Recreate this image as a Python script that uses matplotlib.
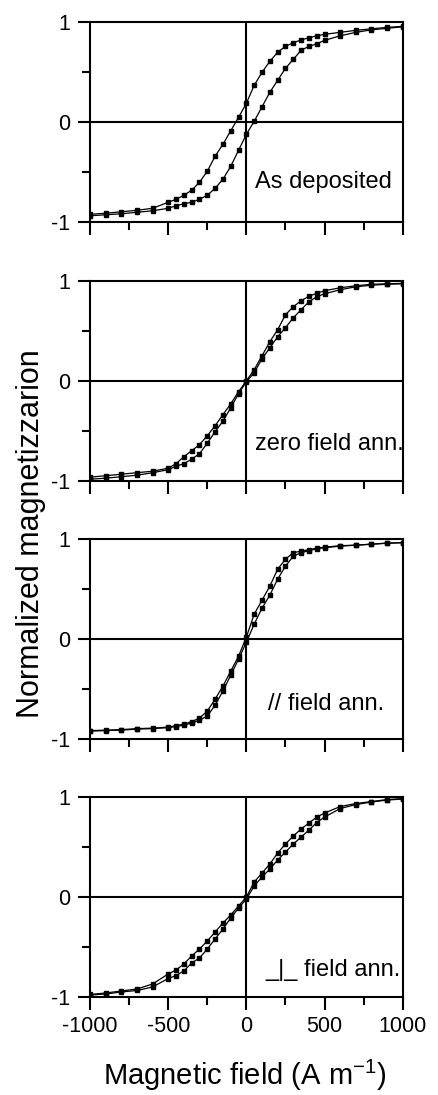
import matplotlib
matplotlib.use("Agg")
import matplotlib.pyplot as plt
from matplotlib.ticker import MultipleLocator

plt.rcParams["font.family"] = ["Liberation Sans", "DejaVu Sans"]
plt.rcParams["axes.unicode_minus"] = False

# ---------------------------------------------------
# DATA
# ---------------------------------------------------
campo = [-1000, -900, -800, -700, -600, -500, -450, -400, -350, -300, -250,
         -200, -150, -100, -50, 0, 50, 100, 150, 200, 250, 300, 350, 400,
         450, 500, 600, 700, 800, 900, 1000]

# As deposited
dep_bajada = [-0.92, -0.91, -0.895, -0.88, -0.86, -0.80, -0.77, -0.73, -0.68,
              -0.60, -0.49, -0.34, -0.22, -0.085, 0.05, 0.19, 0.37, 0.50,
              0.61, 0.70, 0.76, 0.795, 0.825, 0.845, 0.865, 0.88, 0.90,
              0.92, 0.935, 0.95, 0.96]
dep_subida = [-0.935, -0.925, -0.915, -0.90, -0.885, -0.86, -0.835, -0.815,
              -0.80, -0.77, -0.73, -0.66, -0.57, -0.44, -0.28, -0.12, 0.01,
              0.155, 0.30, 0.42, 0.54, 0.63, 0.72, 0.76, 0.785, 0.82, 0.865,
              0.90, 0.925, 0.94, 0.955]

# zero field ann.
cero_bajada = [-0.965, -0.95, -0.935, -0.92, -0.905, -0.875, -0.83, -0.76,
               -0.70, -0.64, -0.55, -0.45, -0.34, -0.23, -0.11, 0.0, 0.11,
               0.25, 0.39, 0.51, 0.66, 0.74, 0.80, 0.845, 0.875, 0.90, 0.93,
               0.95, 0.965, 0.97, 0.973]
cero_subida = [-0.985, -0.975, -0.96, -0.945, -0.92, -0.89, -0.855, -0.83,
               -0.785, -0.73, -0.625, -0.51, -0.405, -0.27, -0.13, -0.01,
               0.08, 0.22, 0.33, 0.44, 0.53, 0.63, 0.71, 0.79, 0.84, 0.87,
               0.91, 0.94, 0.955, 0.965, 0.97]

# // field ann.
par_bajada = [-0.915, -0.91, -0.905, -0.895, -0.89, -0.88, -0.865, -0.85,
              -0.825, -0.79, -0.72, -0.60, -0.47, -0.32, -0.17, 0.02, 0.25,
              0.39, 0.53, 0.70, 0.80, 0.865, 0.88, 0.895, 0.91, 0.92, 0.935,
              0.94, 0.95, 0.96, 0.965]
par_subida = [-0.92, -0.915, -0.91, -0.90, -0.895, -0.885, -0.875, -0.86,
              -0.84, -0.81, -0.77, -0.66, -0.52, -0.36, -0.20, -0.03, 0.15,
              0.31, 0.44, 0.60, 0.73, 0.83, 0.865, 0.885, 0.905, 0.915,
              0.93, 0.94, 0.95, 0.96, 0.965]

# _|_ field ann.
perp_bajada = [-0.975, -0.96, -0.94, -0.92, -0.87, -0.77, -0.73, -0.67,
               -0.59, -0.52, -0.44, -0.35, -0.26, -0.18, -0.09, 0.0, 0.15,
               0.24, 0.33, 0.44, 0.53, 0.61, 0.68, 0.74, 0.80, 0.84, 0.905,
               0.935, 0.955, 0.975, 0.985]
perp_subida = [-0.98, -0.97, -0.95, -0.935, -0.90, -0.815, -0.785, -0.74,
               -0.66, -0.61, -0.52, -0.42, -0.32, -0.21, -0.11, -0.02, 0.11,
               0.20, 0.28, 0.37, 0.45, 0.53, 0.60, 0.67, 0.745, 0.80, 0.885,
               0.925, 0.95, 0.97, 0.98]

etiquetas = ["As deposited", "zero field ann.", "// field ann.", "_|_ field ann."]
pos_texto = [(55, -0.60), (55, -0.63), (138, -0.65), (119, -0.73)]
bajadas = [dep_bajada, cero_bajada, par_bajada, perp_bajada]
subidas = [dep_subida, cero_subida, par_subida, perp_subida]

# ---------------------------------------------------
# FIGURE
# ---------------------------------------------------
fig = plt.figure(figsize=(4.38, 10.95), dpi=100)
bottoms = [0.797, 0.561, 0.325, 0.0895]

for i in range(4):
    ax = fig.add_axes([0.2055, bottoms[i], 0.714, 0.1826])
    ax.axhline(0, color="black", lw=1.5, zorder=1)
    ax.axvline(0, color="black", lw=1.5, zorder=1)
    for serie in (bajadas[i], subidas[i]):
        ax.plot(campo, serie, color="black", lw=0.9, marker="s",
                markersize=2.3, zorder=2)

    ax.set_xlim(-1000, 1000)
    ax.set_ylim(-1, 1)
    ax.set_yticks([-1, 0, 1])
    ax.set_yticklabels(["-1", "0", "1"])
    ax.yaxis.set_minor_locator(MultipleLocator(0.5))
    ax.set_xticks([-1000, -500, 0, 500, 1000])
    ax.xaxis.set_minor_locator(MultipleLocator(250))
    ax.tick_params(which="major", direction="out", length=9, width=1.5,
                   labelsize=15.5, pad=5)
    ax.tick_params(which="minor", direction="out", length=5.5, width=1.5)
    for sp in ax.spines.values():
        sp.set_linewidth(1.5)
    if i < 3:
        ax.tick_params(axis="x", labelbottom=False)

    tx, ty = pos_texto[i]
    ax.text(tx, ty, etiquetas[i], fontsize=17, ha="left", va="center")

fig.text(0.071, 0.513, "Normalized magnetizzarion", rotation=90,
         fontsize=22, ha="center", va="center")
fig.text(0.56, 0.018, r"Magnetic field (A m$^{\mathregular{-1}}$)",
         fontsize=21, ha="center", va="center")

fig.savefig("out.png", dpi=100)
